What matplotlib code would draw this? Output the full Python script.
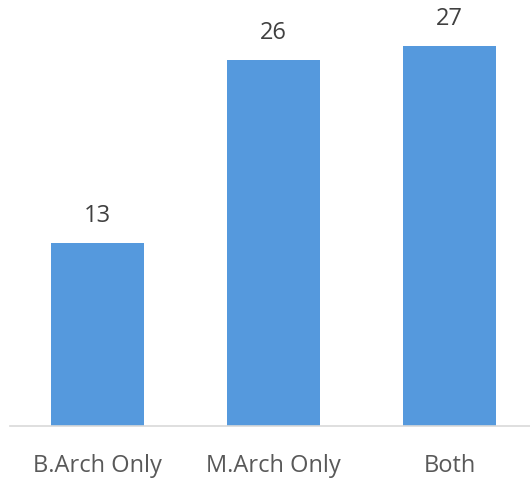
import matplotlib.pyplot as plt
import numpy as np

categories = ['B.Arch Only', 'M.Arch Only', 'Both']
counts = [13, 26, 27]

plt.rcParams['font.family'] = ['Open Sans', 'DejaVu Sans']

fig = plt.figure(figsize=(5.3, 4.8), dpi=100)
# axes placed so baseline sits at ~426 px from top
ax = fig.add_axes([9.5 / 530, 54 / 480, 528 / 530, 422 / 480])

x = np.arange(len(categories))
bars = ax.bar(x, counts, width=0.53, color='#5599dd')

for b, v in zip(bars, counts):
    ax.annotate(str(v), (b.get_x() + b.get_width() / 2, v),
                xytext=(0, 11), textcoords='offset points',
                ha='center', va='bottom', fontsize=17, color='#404040')

ax.set_xlim(-0.5, 2.5)
ax.set_ylim(0, 30)
ax.set_xticks(x)
ax.set_xticklabels(categories, fontsize=17, color='#595959')
ax.tick_params(axis='x', length=0, pad=20)
ax.set_yticks([])
for s in ['top', 'right', 'left']:
    ax.spines[s].set_visible(False)
ax.spines['bottom'].set_color('#d9d9d9')
ax.spines['bottom'].set_linewidth(1.2)

fig.savefig('out.png', dpi=100)
